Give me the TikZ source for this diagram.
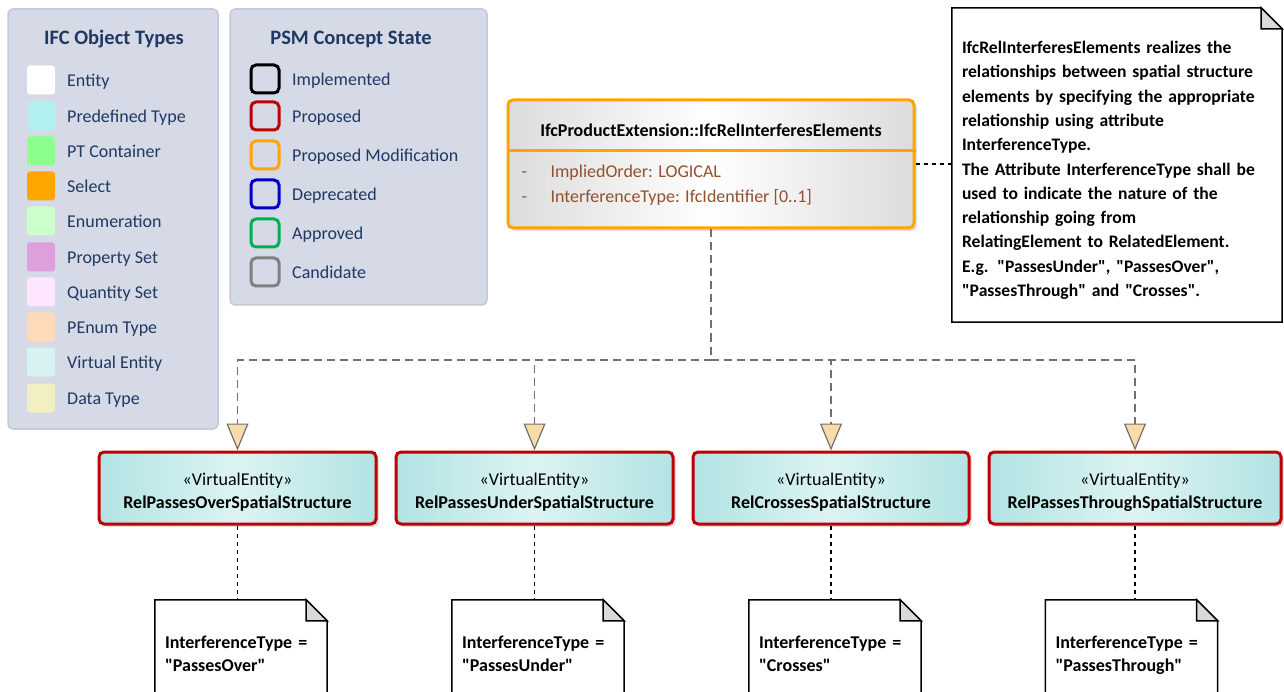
\documentclass[tikz,border=0pt]{standalone}
\usepackage{fontspec}
\setmainfont{Carlito}[Ligatures=TeXOff]
\usetikzlibrary{arrows.meta,shadows}

\definecolor{panelFill}{HTML}{D5DAE6}
\definecolor{panelEdge}{HTML}{C3C9D7}
\definecolor{legendInk}{HTML}{203864}
\definecolor{predefFill}{HTML}{B3F0F0}
\definecolor{ptFill}{HTML}{8CFF8C}
\definecolor{selectFill}{HTML}{FFA500}
\definecolor{enumFill}{HTML}{CCFFCC}
\definecolor{psetFill}{HTML}{DDA0DD}
\definecolor{qsetFill}{HTML}{FFE6FF}
\definecolor{penumFill}{HTML}{FFDAB9}
\definecolor{virtualFill}{HTML}{D8F2F2}
\definecolor{dataFill}{HTML}{F2EFC0}
\definecolor{propRed}{HTML}{C00000}
\definecolor{deprBlue}{HTML}{0000C8}
\definecolor{apprGreen}{HTML}{00B050}
\definecolor{candGray}{HTML}{808080}
\definecolor{attrBrown}{HTML}{93502E}
\definecolor{classEdge}{HTML}{DCDCDC}
\definecolor{veEdge}{HTML}{B2E3E3}
\definecolor{veMid}{HTML}{DDF3F3}
\definecolor{genGray}{HTML}{707070}
\definecolor{triFill}{HTML}{F9DCAA}
\definecolor{foldGray}{HTML}{D9D9D9}

\begin{document}
\begin{tikzpicture}
[x=1pt,y=-1pt,
  font=\fontsize{18}{23}\selectfont,
  panelDecorate/.style={draw=panelEdge,fill=panelFill,line width=1.5pt,rounded corners=5pt},
  titleDecorate/.style={font=\fontsize{20.5}{25}\selectfont\bfseries,text=legendInk,inner sep=0pt,text height=13.2pt,text depth=0pt},
  swatchDecorate/.style={minimum width=28pt,minimum height=29pt,inner sep=0pt,rounded corners=3pt},
  stateDecorate/.style={draw=#1,fill=panelFill,line width=3pt,minimum size=28pt,inner sep=0pt,rounded corners=5pt},
  legendText/.style={anchor=west,text=legendInk,inner sep=0pt,text height=11.6pt,text depth=0pt},
  classDecorate/.style={draw=selectFill,line width=3pt,rounded corners=5pt,left color=classEdge,right color=classEdge,middle color=white,
    minimum width=406pt,minimum height=128pt,drop shadow={shadow xshift=3pt,shadow yshift=-3pt,opacity=.25}},
  veDecorate/.style={draw=propRed,line width=3pt,rounded corners=5pt,left color=veEdge,right color=veEdge,middle color=veMid,
    minimum width=#1,minimum height=72pt,align=center,drop shadow={shadow xshift=3pt,shadow yshift=-3pt,opacity=.25}},
  noteDecorate/.style={minimum width=#1,text width=#1-20pt,align=left,inner xsep=10pt,font=\fontsize{18}{23}\selectfont\bfseries},
  noteLine/.style={draw=black,line width=1.5pt},
  genLine/.style={draw=genGray,line width=1.5pt,dash pattern=on 8pt off 5pt,
    -{Triangle[width=22pt,length=27pt,fill=triFill,line width=1.2pt]}},
  noteLink/.style={draw=black,line width=1.5pt,dash pattern=on 4pt off 4pt}]
\useasboundingbox (0,0) rectangle (1284,692);
\clip (0,0) rectangle (1284,692);
%% legend panels
\node (typesPanel) at (113,219) [panelDecorate,minimum width=210pt,minimum height=420pt] {};
\node (statePanel) at (358.5,157) [panelDecorate,minimum width=257pt,minimum height=296pt] {};
\node (typesTitle) at (114,38) [titleDecorate] {IFC Object Types};
\node (stateTitle) at (351,38) [titleDecorate] {PSM Concept State};
\foreach \nodename/\col/\y/\txt in {
  entity/white/80/Entity, predefined/predefFill/116/Predefined Type,
  ptcontainer/ptFill/151/PT Container, select/selectFill/186/Select,
  enumeration/enumFill/221/Enumeration, pset/psetFill/257/Property Set,
  qset/qsetFill/292/Quantity Set, penum/penumFill/327/PEnum Type,
  virtual/virtualFill/362/Virtual Entity, datatype/dataFill/398/Data Type}
{
  \node (\nodename Swatch) at (41,\y) [swatchDecorate,fill=\col] {};
  \node (\nodename Label) at (67,\y+1) [legendText] {\txt};
}
\foreach \nodename/\col/\y/\txt in {
  implemented/black/79/Implemented, proposed/propRed/116/Proposed,
  modification/selectFill/155/Proposed Modification, deprecated/deprBlue/194/Deprecated,
  approved/apprGreen/233/Approved, candidate/candGray/272/Candidate}
{
  \node (\nodename Box) at (265,\y) [stateDecorate=\col] {};
  \node (\nodename Label) at (292,\y+1) [legendText] {\txt};
}
%% main class
\node (relClass) at (711,164) [classDecorate] {};
\node (relTitle) at (711,131) [inner sep=0pt,text height=11.6pt,text depth=0pt,font=\fontsize{18}{23}\selectfont\bfseries]
  {IfcProductExtension::IfcRelInterferesElements};
\coordinate (divider) at (0,151);
\draw[draw=selectFill,line width=3pt] (relClass.west |- divider) -- (relClass.east |- divider);
\node (relAttrs) at (518,185.5) [anchor=west,align=left,text=attrBrown,font=\fontsize{18}{25}\selectfont]
  {\makebox[29pt][l]{-}ImpliedOrder: LOGICAL\\
   \makebox[29pt][l]{-}InterferenceType: IfcIdentifier [0..1]};
%% notes
\node (info) at (1117,165) [noteDecorate=330pt,minimum height=314pt,font=\fontsize{17.6}{24.3}\selectfont\bfseries]
  {\rule{0pt}{23pt}IfcRelInterferesElements realizes the\\
   relationships between spatial structure\\
   elements by specifying the appropriate\\
   relationship using attribute\\
   InterferenceType.\\
   The Attribute InterferenceType shall be\\
   used to indicate the nature of the\\
   relationship going from\\
   RelatingElement to RelatedElement.\\
   E.g. "PassesUnder", "PassesOver",\\
   "PassesThrough" and "Crosses".};
\draw[noteLink] (relClass.east) -- (relClass.east -| info.west);
%% virtual entities
\coordinate (fork) at (711,360);
\foreach \nodename/\x/\w/\nx/\kind in {
  Over/237.5/277/241/PassesOver, Under/534.5/277/538/PassesUnder,
  Crosses/831/276/835/Crosses, Through/1135/292/1131.5/PassesThrough}
{
  \node (ve\nodename) at (\x,488) [veDecorate=\w pt]
    {\rule{0pt}{21pt}«VirtualEntity»\\\textbf{Rel\kind SpatialStructure}};
  \node (note\nodename) at (\nx,652.5) [noteDecorate=172pt,minimum height=105pt]
    {\rule{0pt}{21.5pt}InterferenceType =\\"\kind"\strut};
  \draw[genLine] (relClass.south) -- (fork) -| (ve\nodename.north);
  \draw[noteLink] (ve\nodename.south) -- (ve\nodename.south |- note\nodename.north);
}
%% note outlines with folded corner
\foreach \nodename in {info, noteOver, noteUnder, noteCrosses, noteThrough}
{
  \draw[noteLine] (\nodename.north west) -- ([xshift=-21pt]\nodename.north east)
    -- ([yshift=-21pt]\nodename.north east) -- (\nodename.south east)
    -- (\nodename.south west) -- cycle;
  \draw[noteLine,fill=foldGray] ([xshift=-21pt]\nodename.north east)
    -- ([xshift=-21pt,yshift=-21pt]\nodename.north east)
    -- ([yshift=-21pt]\nodename.north east) -- cycle;
}
\end{tikzpicture}
\end{document}
